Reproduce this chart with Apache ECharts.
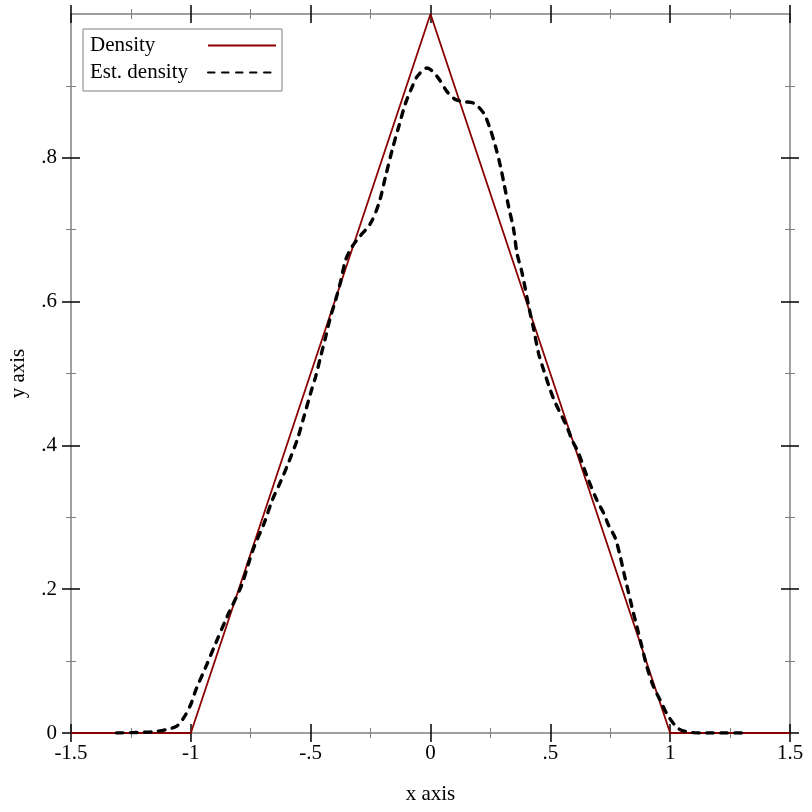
<!DOCTYPE html>
<html>
<head>
<meta charset="utf-8">
<script src="https://cdn.jsdelivr.net/npm/echarts@6/dist/echarts.min.js"></script>
<style>
html,body{margin:0;padding:0;background:#fff;}
#chart{width:812px;height:812px;}
</style>
</head>
<body>
<div id="chart"></div>
<script>
// ---- data ----
var densityX = [-1.5, -1, 0, 1, 1.5];
var densityY = [0, 0, 1, 0, 0];

var estX = [-1.31, -1.25, -1.2, -1.15, -1.1, -1.057, -1.028, -1.0, -0.979, -0.9375, -0.896, -0.847, -0.79, -0.757,
  -0.736, -0.694, -0.66, -0.625, -0.59, -0.556, -0.528, -0.5, -0.479, -0.458, -0.4375, -0.417, -0.396, -0.375,
  -0.354, -0.326, -0.299, -0.25, -0.215, -0.1875, -0.16, -0.132, -0.104, -0.076, -0.056, -0.014, 0.028, 0.069,
  0.104, 0.139, 0.18, 0.222, 0.25, 0.271, 0.292, 0.306, 0.326, 0.347, 0.361, 0.382, 0.41, 0.431, 0.451, 0.472,
  0.5, 0.521, 0.549, 0.569, 0.59, 0.618, 0.653, 0.694, 0.722, 0.743, 0.771, 0.792, 0.806, 0.84, 0.861, 0.882,
  0.903, 0.931, 0.958, 0.989, 1.035, 1.083, 1.15, 1.305];
var estY = [0, 0.0005, 0.001, 0.002, 0.005, 0.01, 0.022, 0.04, 0.06, 0.092, 0.125, 0.163, 0.204, 0.238,
  0.259, 0.292, 0.324, 0.35, 0.378, 0.408, 0.44, 0.473, 0.496, 0.524, 0.551, 0.579, 0.602, 0.628,
  0.658, 0.677, 0.689, 0.709, 0.737, 0.774, 0.811, 0.844, 0.876, 0.899, 0.913, 0.925, 0.913, 0.892,
  0.881, 0.878, 0.876, 0.862, 0.839, 0.816, 0.788, 0.765, 0.732, 0.7, 0.667, 0.64, 0.593, 0.561, 0.528, 0.505,
  0.477, 0.459, 0.44, 0.426, 0.408, 0.389, 0.357, 0.324, 0.306, 0.289, 0.271, 0.245, 0.224, 0.176, 0.148, 0.12,
  0.092, 0.064, 0.046, 0.025, 0.006, 0.001, 0, 0];

var xTicks = [-1.5, -1, -0.5, 0, 0.5, 1, 1.5];
var yTicks = [0, 0.2, 0.4, 0.6, 0.8];
var seriesNames = ['Density', 'Est. density'];
var xName = 'x axis';
var yName = 'y axis';

// ---- helpers ----
function fmt(v) {
  if (Math.abs(v) < 1e-9) return '0';
  var s = String(Math.round(v * 100) / 100);
  return s.replace(/^(-?)0\./, '$1.');
}
function zip(a, b) { return a.map(function (v, i) { return [v, b[i]]; }); }

var FONT = 'Liberation Serif';
var FS = 21;
var AXIS_GRAY = '#808080';

function xAxisDef(pos, inside, withLabels) {
  return {
    type: 'value', position: pos, min: -1.5, max: 1.5, interval: 0.5,
    name: withLabels ? xName : '', nameLocation: 'middle', nameGap: 51,
    nameTextStyle: { fontFamily: FONT, fontSize: FS, color: '#000' },
    axisLine: { show: !!withLabels, onZero: false, lineStyle: { color: AXIS_GRAY, width: 1.5 } },
    axisTick: { show: !withLabels, inside: inside, length: 9, customValues: xTicks,
      lineStyle: { color: '#000', width: 1.5 } },
    minorTick: { show: !withLabels, splitNumber: 2, length: 5, lineStyle: { color: AXIS_GRAY, width: 1 } },
    axisLabel: { show: !!withLabels, customValues: xTicks, formatter: fmt, margin: 10,
      fontFamily: FONT, fontSize: FS, color: '#000' },
    splitLine: { show: false }, minorSplitLine: { show: false }
  };
}
function yAxisDef(pos, inside, withLabels) {
  return {
    type: 'value', position: pos, min: 0, max: 1, interval: 0.2,
    name: withLabels ? yName : '', nameLocation: 'middle', nameGap: 42,
    nameTextStyle: { fontFamily: FONT, fontSize: FS, color: '#000' },
    axisLine: { show: !!withLabels, onZero: false, lineStyle: { color: AXIS_GRAY, width: 1.5 } },
    axisTick: { show: !withLabels, inside: inside, length: 9, customValues: yTicks,
      lineStyle: { color: '#000', width: 1.5 } },
    minorTick: { show: !withLabels, splitNumber: 2, length: 5, lineStyle: { color: AXIS_GRAY, width: 1 } },
    axisLabel: { show: !!withLabels, customValues: yTicks, formatter: fmt, margin: 14,
      fontFamily: FONT, fontSize: FS, color: '#000' },
    splitLine: { show: false }, minorSplitLine: { show: false }
  };
}

var topLine = xAxisDef('top', false, false); topLine.axisLine.show = true; topLine.axisTick.show = false; topLine.minorTick.show = false;
var rightLine = yAxisDef('right', false, false); rightLine.axisLine.show = true; rightLine.axisTick.show = false; rightLine.minorTick.show = false;

var option = {
  animation: false,
  backgroundColor: '#fff',
  grid: { left: 70, right: 22, top: 14, bottom: 79, containLabel: false },
  xAxis: [
    xAxisDef('bottom', false, true),
    xAxisDef('bottom', true, false),
    xAxisDef('bottom', false, false),
    topLine,
    xAxisDef('top', true, false),
    xAxisDef('top', false, false)
  ],
  yAxis: [
    yAxisDef('left', false, true),
    yAxisDef('left', true, false),
    yAxisDef('left', false, false),
    rightLine,
    yAxisDef('right', true, false),
    yAxisDef('right', false, false)
  ],
  legend: {
    orient: 'vertical', left: 83, top: 29,
    padding: [6, 5, 8, 7], itemGap: 6, itemWidth: 68, itemHeight: 22,
    align: 'right',
    borderColor: AXIS_GRAY, borderWidth: 1, backgroundColor: '#fff',
    data: seriesNames,
    itemStyle: { opacity: 0 },
    formatter: function (name) { return '{a|' + name + '}'; },
    textStyle: {
      fontFamily: FONT, fontSize: FS, color: '#000',
      rich: { a: { width: 113, align: 'left', fontFamily: FONT, fontSize: FS, color: '#000' } }
    }
  },
  series: [
    {
      name: seriesNames[0], type: 'line', data: zip(densityX, densityY),
      showSymbol: false, symbol: 'none', color: '#8b0000',
      lineStyle: { color: '#8b0000', width: 1.8 }, z: 3
    },
    {
      name: seriesNames[1], type: 'line', data: zip(estX, estY),
      showSymbol: false, symbol: 'none', smooth: 0.3, color: '#000',
      lineStyle: { color: '#000', width: 3.4, type: [6.5, 7.5], cap: 'round' }, z: 4
    }
  ]
};

var chart = echarts.init(document.getElementById('chart'), null, { renderer: 'canvas' });
chart.setOption(option);
</script>
</body>
</html>
